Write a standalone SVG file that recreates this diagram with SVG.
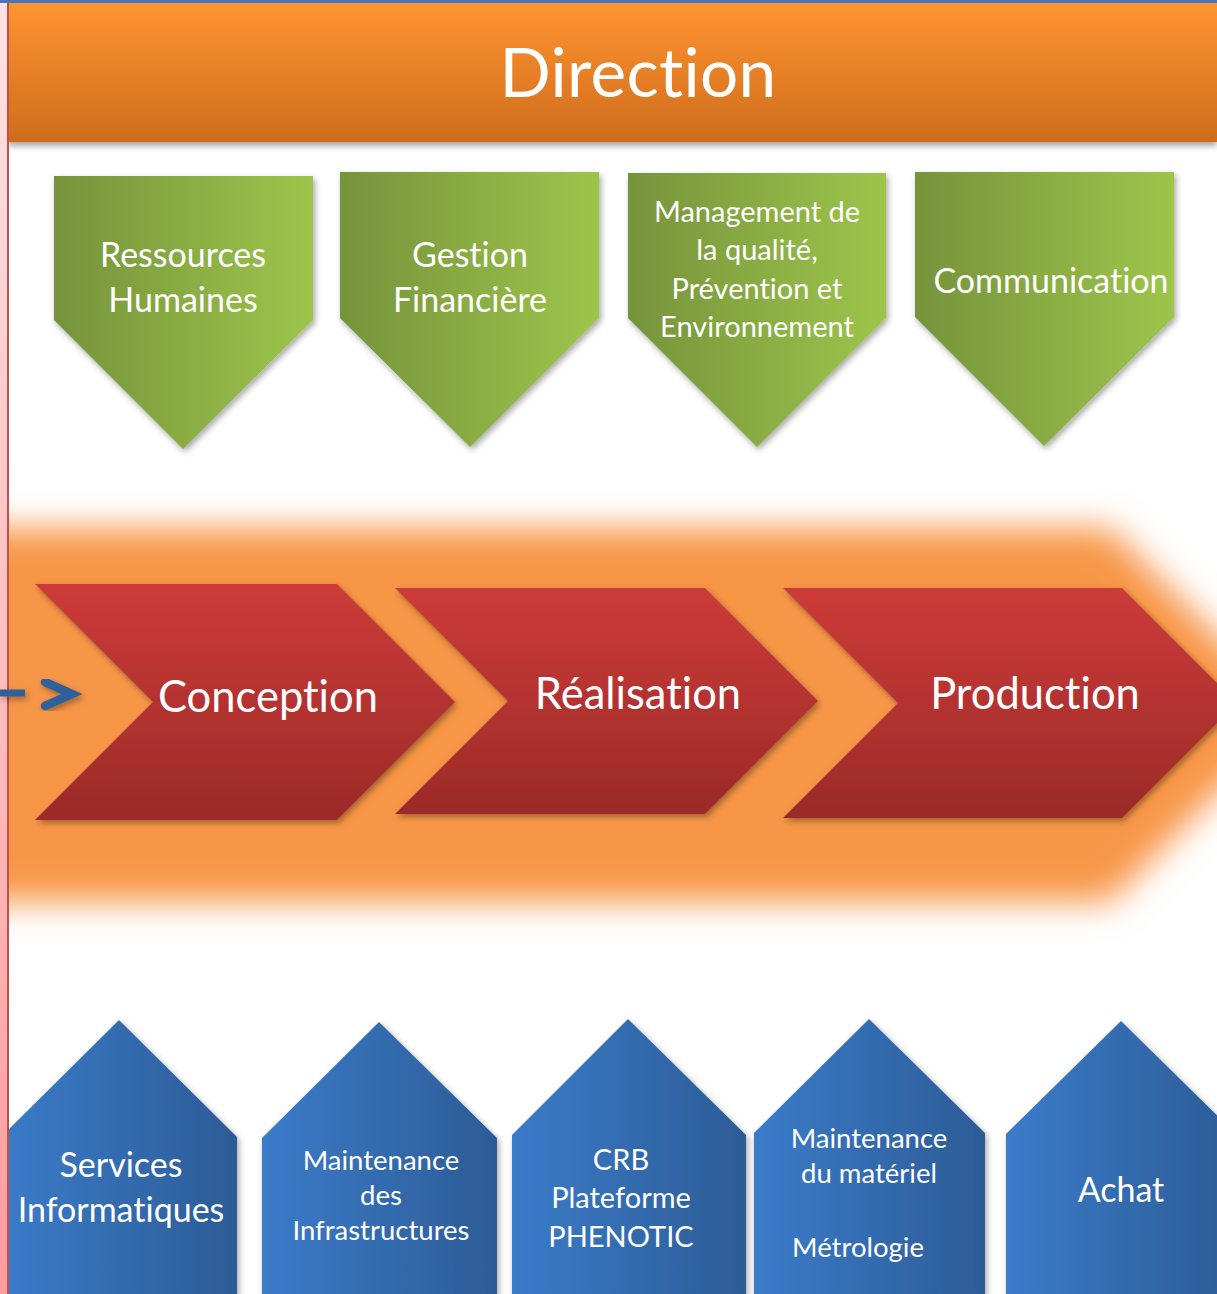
<svg xmlns="http://www.w3.org/2000/svg" width="1217" height="1294" viewBox="0 0 1217 1294">
  <defs>
    <linearGradient id="gBanner" x1="0" y1="0" x2="0" y2="1">
      <stop offset="0" stop-color="#ff9430"/>
      <stop offset="1" stop-color="#cf6c1d"/>
    </linearGradient>
    <linearGradient id="gPink" x1="0" y1="0" x2="0" y2="1">
      <stop offset="0" stop-color="#ffe2e2"/>
      <stop offset="1" stop-color="#ff9c9c"/>
    </linearGradient>
    <linearGradient id="gGreen" x1="0" y1="0" x2="1" y2="0">
      <stop offset="0" stop-color="#76933b"/>
      <stop offset="1" stop-color="#9dc54b"/>
    </linearGradient>
    <linearGradient id="gBlue" x1="0" y1="0" x2="1" y2="0">
      <stop offset="0" stop-color="#3b7bc9"/>
      <stop offset="1" stop-color="#2c5c96"/>
    </linearGradient>
    <linearGradient id="gRed" x1="0" y1="0" x2="0" y2="1">
      <stop offset="0" stop-color="#cd3b38"/>
      <stop offset="1" stop-color="#9b2a28"/>
    </linearGradient>
    <filter id="glow" x="-10%" y="-30%" width="120%" height="160%">
      <feGaussianBlur stdDeviation="17"/>
    </filter>
    <filter id="shadow" x="-10%" y="-10%" width="130%" height="130%">
      <feDropShadow dx="2" dy="3" stdDeviation="3" flood-color="#000" flood-opacity="0.35"/>
    </filter>
    <filter id="shadowB" x="-5%" y="-10%" width="110%" height="130%">
      <feDropShadow dx="0" dy="4" stdDeviation="3" flood-color="#000" flood-opacity="0.35"/>
    </filter>
  </defs>
  <style>
    text { font-family: Lato, "Liberation Sans", sans-serif; fill: #ffffff; text-anchor: middle; font-variant-ligatures: none; font-feature-settings: "liga" 0, "clig" 0, "dlig" 0, "calt" 0; }
    .green { fill: url(#gGreen); filter: url(#shadow); }
    .blue { fill: url(#gBlue); filter: url(#shadow); }
    .red { fill: url(#gRed); filter: url(#shadow); }
    .t33 { font-size: 34px; }
    .t29 { font-size: 29px; }
    .t27 { font-size: 27.5px; }
    .t43 { font-size: 43.5px; }
  </style>

  <rect x="0" y="0" width="1217" height="1294" fill="#ffffff"/>

  <!-- orange glow band -->
  <g id="glow-band">
    <polygon points="-40,528 1110,528 1295,714 1110,902 -40,902" fill="#f79646" filter="url(#glow)"/>
  </g>

  <!-- Direction banner -->
  <g id="direction">
    <rect x="8" y="3" width="1209" height="139" fill="url(#gBanner)" filter="url(#shadowB)"/>
    <text x="638" y="97" font-size="67.5px" letter-spacing="0.3">Direction</text>
  </g>

  <!-- support (green) -->
  <g id="rh">
    <polygon class="green" points="54,176 313,176 313,320 183,449 54,320"/>
    <text class="t33" x="183" y="267">Ressources</text>
    <text class="t33" x="183" y="312">Humaines</text>
  </g>
  <g id="gf">
    <polygon class="green" points="340,172 599,172 599,318 470,447 340,318"/>
    <text class="t33" x="470" y="267">Gestion</text>
    <text class="t33" x="470" y="312">Financière</text>
  </g>
  <g id="qse">
    <polygon class="green" points="628,173 886,173 886,318 757,447 628,318"/>
    <text class="t29" x="757" y="222">Management de</text>
    <text class="t29" x="757" y="260">la qualité,</text>
    <text class="t29" x="757" y="299">Prévention et</text>
    <text class="t29" x="757" y="337">Environnement</text>
  </g>
  <g id="com">
    <polygon class="green" points="915,172 1174,172 1174,317 1044,446 915,317"/>
    <text class="t33" x="1051" y="293">Communication</text>
  </g>

  <!-- main process (red chevrons) -->
  <g id="conception">
    <polygon class="red" points="35,584 337,584 455,702 337,820 35,820 153,702"/>
    <text class="t43" x="268" y="712">Conception</text>
  </g>
  <g id="realisation">
    <polygon class="red" points="395,588 705,588 818,701 705,814 395,814 508,701"/>
    <text class="t43" x="638" y="709">Réalisation</text>
  </g>
  <g id="production">
    <polygon class="red" points="783,588 1122,588 1237,703 1122,818 783,818 898,703"/>
    <text class="t43" x="1035" y="709">Production</text>
  </g>

  <!-- support (blue) -->
  <g id="si">
    <polygon class="blue" points="1,1137 119,1020 237,1137 237,1300 1,1300"/>
    <text class="t33" x="121" y="1177">Services</text>
    <text class="t33" x="121" y="1222">Informatiques</text>
  </g>
  <g id="infra">
    <polygon class="blue" points="262,1138 379,1022 497,1138 497,1300 262,1300"/>
    <text class="t27" x="381" y="1170">Maintenance</text>
    <text class="t27" x="381" y="1205">des</text>
    <text class="t27" x="381" y="1240">Infrastructures</text>
  </g>
  <g id="crb">
    <polygon class="blue" points="512,1135 628,1019 746,1135 746,1300 512,1300"/>
    <text class="t29" x="621" y="1170">CRB</text>
    <text class="t29" x="621" y="1208">Plateforme</text>
    <text class="t29" x="621" y="1247">PHENOTIC</text>
  </g>
  <g id="materiel">
    <polygon class="blue" points="754,1133 869,1019 985,1133 985,1300 754,1300"/>
    <text class="t27" x="869" y="1148">Maintenance</text>
    <text class="t27" x="869" y="1183">du matériel</text>
    <text class="t27" x="858" y="1257">Métrologie</text>
  </g>
  <g id="achat">
    <polygon class="blue" points="1006,1134 1121,1021 1236,1134 1236,1300 1006,1300"/>
    <text class="t33" x="1121" y="1202">Achat</text>
  </g>

  <!-- left margin -->
  <g id="margin">
    <rect x="0" y="3" width="7" height="1291" fill="url(#gPink)"/>
    <rect x="7" y="3" width="2" height="1291" fill="#c0504d"/>
    <rect x="0" y="0" width="1217" height="3" fill="#4a76b8"/>
  </g>

  <!-- connectors -->
  <g id="connectors" stroke="#2f6099" fill="none" filter="url(#shadow)">
    <line x1="0" y1="693" x2="25" y2="693" stroke-width="7"/>
    <polyline points="45,682 72,694 45,706" stroke-width="8.5" stroke-linecap="round" stroke-linejoin="miter"/>
  </g>
</svg>
